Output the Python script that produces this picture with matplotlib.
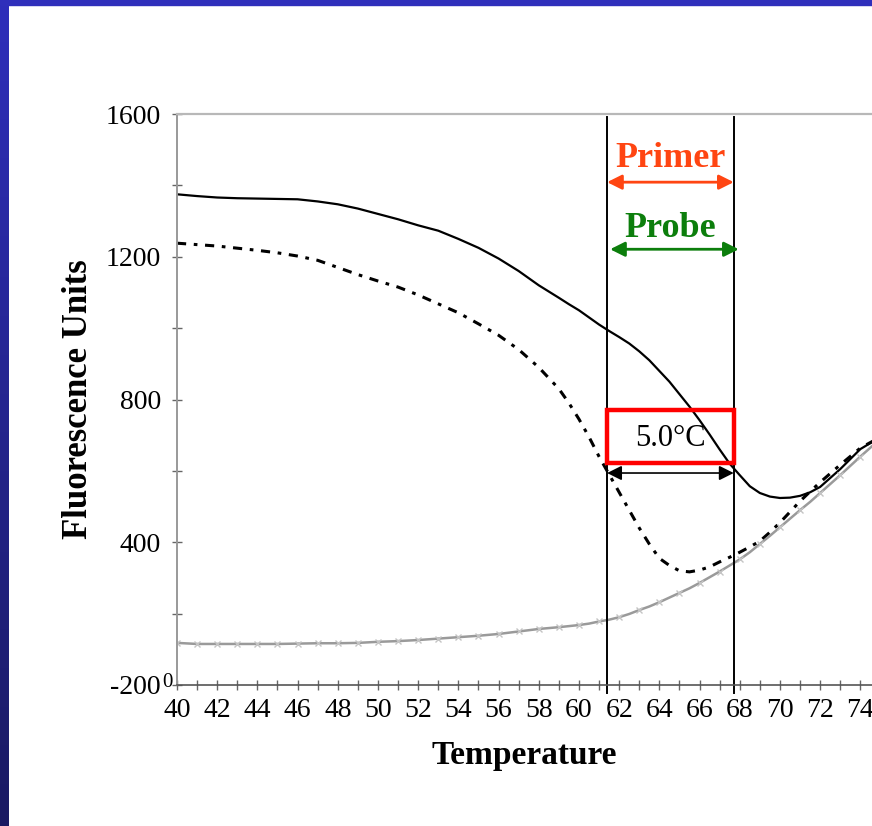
# ------------------------------
#  Melting curves - primer / probe
# ------------------------------

import numpy as np
import matplotlib.pyplot as plt
from matplotlib.ticker import MultipleLocator
from matplotlib.patches import Rectangle
from matplotlib.colors import LinearSegmentedColormap

plt.rcParams["font.family"] = ["Liberation Serif", "DejaVu Serif"]

# Data
temps = [40, 41, 42, 43, 44, 45, 46, 47, 48, 49, 50, 51, 52, 53, 54, 55, 56, 57,
         58, 59, 59.5, 60, 60.5, 61, 61.5, 62, 62.5, 63, 63.5, 64, 64.5, 65, 65.5,
         66, 66.5, 67, 67.5, 68, 68.5, 69, 69.5, 70, 70.5, 71, 71.5, 72, 73, 74, 75]
solid = [1375, 1370, 1366, 1364, 1363, 1362, 1361, 1355, 1347, 1335, 1320, 1305,
         1288, 1273, 1250, 1225, 1195, 1160, 1120, 1085, 1067, 1050, 1030, 1010,
         992, 975, 957, 935, 910, 880, 850, 815, 780, 742, 702, 660, 620, 588,
         557, 538, 528, 524, 525, 530, 540, 555, 605, 661, 695]
dotted = [1238, 1234, 1230, 1224, 1218, 1211, 1202, 1190, 1170, 1150, 1132, 1115,
          1093, 1068, 1043, 1012, 980, 940, 890, 830, 790, 745, 695, 640, 590,
          540, 490, 440, 395, 355, 335, 320, 317, 322, 331, 345, 358, 372, 387,
          403, 428, 455, 485, 515, 542, 568, 617, 664, 695]
gray = [118, 115, 115, 115, 115, 115, 116, 117, 117, 118, 121, 123, 126, 130,
        134, 138, 143, 150, 157, 162, 165, 168, 172, 178, 183, 190, 199, 210,
        220, 232, 245, 258, 271, 286, 302, 318, 335, 352, 372, 395, 418, 442,
        466, 490, 513, 538, 588, 640, 690]

y_ticks = [0, 400, 800, 1200, 1600]
y_labels = ["-200", "400", "800", "1200", "1600"]

# melting window
t_low, t_high = 61.4, 67.7
box_top, box_bottom = 770, 622

# ------------------------
# Figure
# ------------------------
fig = plt.figure(figsize=(8.72, 8.26), dpi=100)

# blue slide border
border = fig.add_axes([0, 0, 8 / 872, 1])
grad = np.linspace(0, 1, 256).reshape(-1, 1)
cmap = LinearSegmentedColormap.from_list("b", ["#2f2fbb", "#1a1a62"])
border.imshow(grad, aspect="auto", cmap=cmap)
border.axis("off")
fig.patches.append(Rectangle((0, 1 - 5 / 826), 1, 5 / 826, transform=fig.transFigure,
                             color="#2f2fbb", zorder=5))

ax = fig.add_axes([177 / 872, 1 - 685 / 826, 1 - 177 / 872, (685 - 114) / 826])

# markers only on whole degrees
whole = [i for i, t in enumerate(temps) if float(t).is_integer()]

ax.plot(temps, solid, color="black", lw=1.6)
ax.plot(temps, dotted, color="black", lw=2.2, dashes=(3, 2.5, 1.2, 2.5))
ax.plot(temps, gray, color="#9a9a9a", lw=1.8, marker="x", ms=5, mew=1,
        mec="#c4c4c4", markevery=whole)

ax.set_xlim(40, 74.58)
ax.set_ylim(0, 1600)

# vertical guide lines
for t in (t_low, t_high):
    ax.plot([t, t], [-22, 1591], color="black", lw=1.4, clip_on=False)

# Primer / Probe arrows
ax.annotate("", xy=(t_low, 1409), xytext=(t_high, 1409),
            arrowprops=dict(arrowstyle="<|-|>", color="#ff4512", lw=2,
                            mutation_scale=22, shrinkA=0, shrinkB=0))
ax.text((t_low + t_high) / 2, 1476, "Primer", color="#ff4512", fontsize=26,
        fontweight="bold", ha="center", va="center")
ax.annotate("", xy=(61.55, 1221), xytext=(67.95, 1221),
            arrowprops=dict(arrowstyle="<|-|>", color="#0c7e0c", lw=2,
                            mutation_scale=22, shrinkA=0, shrinkB=0))
ax.text((t_low + t_high) / 2, 1280, "Probe", color="#0c7e0c", fontsize=26,
        fontweight="bold", ha="center", va="center")

# 5.0 C box
ax.add_patch(Rectangle((t_low, box_bottom), t_high - t_low, box_top - box_bottom,
                       fill=False, edgecolor="#ff0000", lw=3.2, zorder=4))
ax.text((t_low + t_high) / 2, 690, "5.0°C", fontsize=22, ha="center", va="center")
ax.annotate("", xy=(t_low, 594), xytext=(t_high, 594),
            arrowprops=dict(arrowstyle="<|-|>", color="black", lw=1.2,
                            mutation_scale=22, shrinkA=0, shrinkB=0))

# Axes styling
ax.xaxis.set_major_locator(MultipleLocator(2))
ax.xaxis.set_minor_locator(MultipleLocator(1))
ax.set_yticks(y_ticks)
ax.set_yticklabels(y_labels)
ax.yaxis.set_minor_locator(MultipleLocator(200))
ax.tick_params(which="both", direction="inout", length=7, width=1, color="#666666",
               labelsize=20, pad=6)
ax.tick_params(axis="y", pad=8)
ax.text(-0.006, 0.004, "0", transform=ax.transAxes, fontsize=15, ha="right",
        va="center")

ax.spines["right"].set_visible(False)
ax.spines["top"].set_color("#b8b8b8")
ax.spines["top"].set_linewidth(1.6)
ax.spines["left"].set_color("#999999")
ax.spines["left"].set_linewidth(1.4)
ax.spines["bottom"].set_color("#555555")
ax.spines["bottom"].set_linewidth(1.2)

ax.set_xlabel("Temperature", fontsize=24, fontweight="bold", labelpad=12)
ax.set_ylabel("Fluorescence Units", fontsize=25, fontweight="bold", labelpad=8)

plt.savefig("out.png", dpi=100)
